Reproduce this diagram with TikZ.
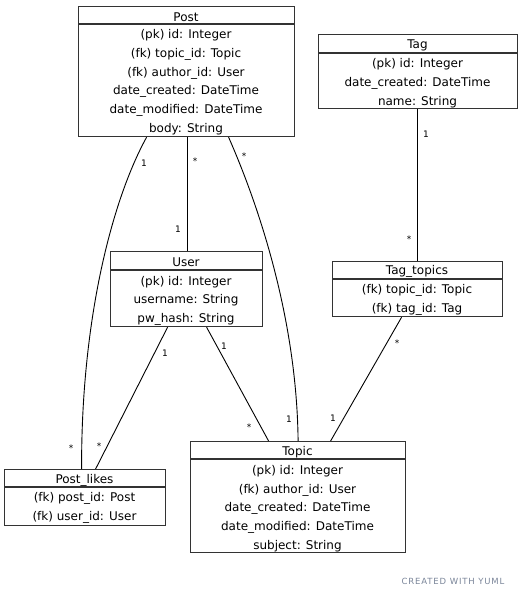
\documentclass[tikz,border=0pt]{standalone}
\usepackage{fontspec}
\setmainfont{DejaVu Sans}
\newfontfamily\footfont[LetterSpace=10]{DejaVu Sans}
\definecolor{footgray}{HTML}{7A8599}
\begin{document}
\begin{tikzpicture}[x=1pt,y=-1pt,
  box/.style={draw=black!80,line width=1.2pt,anchor=north west,inner sep=0pt},
  txt/.style={font=\fontsize{12}{14}\selectfont,inner sep=0pt,anchor=center,yshift=-1pt},
  mult/.style={font=\fontsize{9}{10}\selectfont,inner sep=0pt},
  conn/.style={draw=black,line width=0.9pt}]
\useasboundingbox (0,0) rectangle (521,598);
% Post
\node[box,minimum width=216pt,minimum height=130pt] (post) at (78,6) {};
\draw[black!80,line width=1.2pt] (post.north west) ++(0,18) -- ++(216,0);
\node[txt] (postH) at (186,16) {Post};
\node[txt] (post1) at (186,34) {(pk) id: Integer};
\node[txt] (post2) at (186,53) {(fk) topic\_id: Topic};
\node[txt] (post3) at (186,72) {(fk) author\_id: User};
\node[txt] (post4) at (186,90) {date\_created: DateTime};
\node[txt] (post5) at (186,109) {date\_modified: DateTime};
\node[txt] (post6) at (186,128) {body: String};
% Tag
\node[box,minimum width=199pt,minimum height=74pt] (tag) at (318,34) {};
\draw[black!80,line width=1.2pt] (tag.north west) ++(0,19) -- ++(199,0);
\node[txt] (tagH) at (417.5,44) {Tag};
\node[txt] (tag1) at (417.5,63) {(pk) id: Integer};
\node[txt] (tag2) at (417.5,82) {date\_created: DateTime};
\node[txt] (tag3) at (417.5,101) {name: String};
% User
\node[box,minimum width=152pt,minimum height=75pt] (user) at (110,251) {};
\draw[black!80,line width=1.2pt] (user.north west) ++(0,19) -- ++(152,0);
\node[txt] (userH) at (186,261) {User};
\node[txt] (user1) at (186,281) {(pk) id: Integer};
\node[txt] (user2) at (186,299) {username: String};
\node[txt] (user3) at (186,318) {pw\_hash: String};
% Tag_topics
\node[box,minimum width=170pt,minimum height=55pt] (tt) at (332,261) {};
\draw[black!80,line width=1.2pt] (tt.north west) ++(0,18) -- ++(170,0);
\node[txt] (ttH) at (417,270) {Tag\_topics};
\node[txt] (tt1) at (417,289) {(fk) topic\_id: Topic};
\node[txt] (tt2) at (417,308) {(fk) tag\_id: Tag};
% Post_likes
\node[box,minimum width=161pt,minimum height=56pt] (pl) at (4,469) {};
\draw[black!80,line width=1.2pt] (pl.north west) ++(0,18) -- ++(161,0);
\node[txt] (plH) at (84.5,479) {Post\_likes};
\node[txt] (pl1) at (84.5,497) {(fk) post\_id: Post};
\node[txt] (pl2) at (84.5,516) {(fk) user\_id: User};
% Topic
\node[box,minimum width=215pt,minimum height=111pt] (topic) at (190,441) {};
\draw[black!80,line width=1.2pt] (topic.north west) ++(0,18) -- ++(215,0);
\node[txt] (topicH) at (297.5,451) {Topic};
\node[txt] (topic1) at (297.5,470) {(pk) id: Integer};
\node[txt] (topic2) at (297.5,489) {(fk) author\_id: User};
\node[txt] (topic3) at (297.5,507) {date\_created: DateTime};
\node[txt] (topic4) at (297.5,526) {date\_modified: DateTime};
\node[txt] (topic5) at (297.5,545) {subject: String};
% connectors
\draw[conn] ([xshift=1pt]post.south) -- ([xshift=1pt]user.north);
\draw[conn] ([xshift=-40pt]post.south) .. controls (112,200) and (81,320) .. ([xshift=-3.5pt]pl.north);
\draw[conn] ([xshift=42pt]post.south) .. controls (265,220) and (297,330) .. (topic.north);
\draw[conn] ([xshift=-19pt]user.south) -- ([xshift=10.5pt]pl.north);
\draw[conn] ([xshift=20pt]user.south) -- ([xshift=-29.5pt]topic.north);
\draw[conn] ([xshift=-0.5pt]tag.south) -- (tt.north);
\draw[conn] ([xshift=-16pt]tt.south) -- ([xshift=32.5pt]topic.north);
% multiplicities
\node[mult] (m1) at (195,161) {*};
\node[mult] (m2) at (178,229) {1};
\node[mult] (m3) at (144,163) {1};
\node[mult] (m4) at (71,448) {*};
\node[mult] (m5) at (244,156) {*};
\node[mult] (m6) at (289,419) {1};
\node[mult] (m7) at (165,353) {1};
\node[mult] (m8) at (99,446) {*};
\node[mult] (m9) at (224,346) {1};
\node[mult] (m10) at (249,427) {*};
\node[mult] (m11) at (426,134) {1};
\node[mult] (m12) at (409,239) {*};
\node[mult] (m13) at (397,343) {*};
\node[mult] (m14) at (333,418) {1};
\node[font=\footfont\fontsize{8.5}{10}\selectfont,text=footgray,inner sep=0pt] (footer) at (453,581) {CREATED WITH YUML};
\end{tikzpicture}
\end{document}
